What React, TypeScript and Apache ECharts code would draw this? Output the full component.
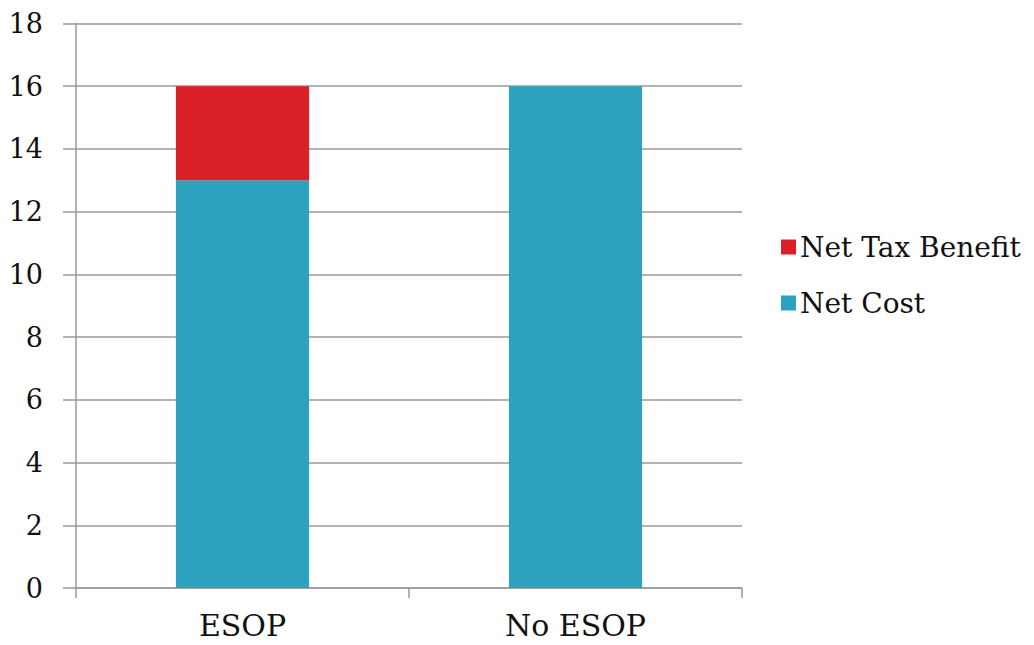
import React, { useEffect, useRef } from "react";
import * as echarts from "echarts";

const categories = ["ESOP", "No ESOP"];
const netCost = [13, 16];
const netTaxBenefit = [3, 0];
const yTicks = { min: 0, max: 18, interval: 2 };

export default function App() {
  const ref = useRef<HTMLDivElement>(null);
  useEffect(() => {
    const chart = echarts.init(ref.current!, null, { renderer: "svg" });
    const font = "DejaVu Serif";
    chart.setOption({
      animation: false,
      grid: { left: 76, right: 292, top: 23.5, bottom: 57, containLabel: false, outerBoundsMode: "none" },
      legend: {
        orient: "vertical",
        left: 776,
        top: 228,
        itemWidth: 15,
        itemHeight: 15,
        itemGap: 28,
        icon: "rect",
        data: ["Net Tax Benefit", "Net Cost"],
        textStyle: { fontFamily: font, fontSize: 28, color: "#111", padding: [0, 0, 0, -1] },
      },
      xAxis: {
        type: "category",
        data: categories,
        axisLine: { lineStyle: { color: "#9a9a9a", width: 1.5 } },
        axisTick: { show: true, length: 10, lineStyle: { color: "#9a9a9a", width: 1.5 } },
        axisLabel: { fontFamily: font, fontSize: 30, color: "#111", margin: 22 },
      },
      yAxis: {
        type: "value",
        min: yTicks.min,
        max: yTicks.max,
        interval: yTicks.interval,
        axisLine: { show: true, lineStyle: { color: "#9a9a9a", width: 1.5 } },
        axisTick: { show: true, length: 13, lineStyle: { color: "#9a9a9a", width: 1.5 } },
        splitLine: { lineStyle: { color: "#9a9a9a", width: 1.5 } },
        axisLabel: { fontFamily: font, fontSize: 27, color: "#111", margin: 33 },
      },
      series: [
        {
          name: "Net Cost",
          type: "bar",
          stack: "total",
          data: netCost,
          barWidth: "40%",
          itemStyle: { color: "#2CA2BF" },
        },
        {
          name: "Net Tax Benefit",
          type: "bar",
          stack: "total",
          data: netTaxBenefit,
          barWidth: "40%",
          itemStyle: { color: "#DA1F27" },
        },
      ],
    });
    return () => chart.dispose();
  }, []);
  return <div ref={ref} style={{ width: 1034, height: 645, position: "absolute", left: 0, top: 0 }} />;
}
